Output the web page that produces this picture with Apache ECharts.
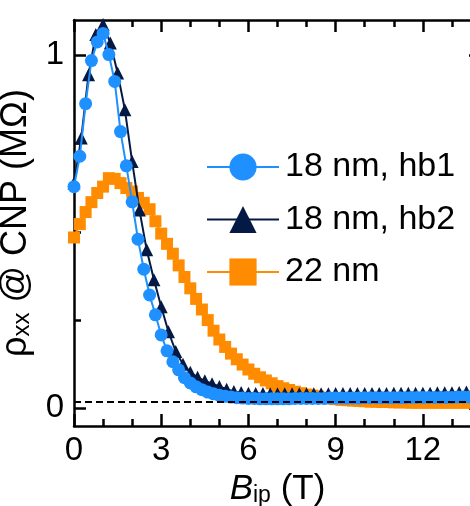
<!DOCTYPE html>
<html>
<head>
<meta charset="utf-8">
<script src="https://cdn.jsdelivr.net/npm/echarts@6/dist/echarts.min.js"></script>
<style>
html,body{margin:0;padding:0;background:#fff;}
#c{width:470px;height:506px;}
</style>
</head>
<body>
<div id="c"></div>
<script>
// ---- data ----
const hb1X = [0.0,0.2,0.4,0.6,0.8,1.0,1.2,1.4,1.6,1.8,2.0,2.2,2.4,2.6,2.8,3.0,3.2,3.4,3.6,3.8,4.0,4.2,4.4,4.6,4.8,5.0,5.2,5.4,5.6,5.8,6.0,6.2,6.4,6.6,6.8,7.0,7.2,7.4,7.6,7.8,8.0,8.2,8.4,8.6,8.8,9.0,9.2,9.4,9.6,9.8,10.0,10.2,10.4,10.6,10.8,11.0,11.2,11.4,11.6,11.8,12.0,12.2,12.4,12.6,12.8,13.0,13.2,13.4,13.6];
const hb1Y = [0.628,0.714,0.863,0.985,1.038,1.062,1.002,0.926,0.784,0.687,0.585,0.479,0.394,0.321,0.265,0.208,0.163,0.132,0.109,0.087,0.072,0.061,0.053,0.046,0.041,0.037,0.034,0.032,0.030,0.029,0.028,0.028,0.027,0.027,0.027,0.027,0.027,0.027,0.028,0.028,0.028,0.028,0.028,0.028,0.029,0.029,0.029,0.029,0.029,0.029,0.030,0.030,0.030,0.030,0.030,0.030,0.030,0.030,0.031,0.031,0.031,0.031,0.031,0.031,0.031,0.031,0.032,0.032,0.032];

const hb2X = [0,0.25,0.5,0.75,1.0,1.25,1.5,1.75,2.0,2.25,2.5,2.75,3.0,3.25,3.5,3.75,4.0,4.25,4.5,4.75,5.0,5.25,5.5,5.75,6.0,6.25,6.5,6.75,7.0,7.25,7.5,7.75,8.0,8.25,8.5,8.75,9.0,9.25,9.5,9.75,10.0,10.25,10.5,10.75,11.0,11.25,11.5,11.75,12.0,12.25,12.5,12.75,13.0,13.25,13.5];
const hb2Y = [0.638,0.766,0.945,1.059,1.087,1.035,0.950,0.846,0.699,0.562,0.449,0.364,0.288,0.217,0.161,0.125,0.102,0.088,0.078,0.070,0.062,0.054,0.048,0.045,0.043,0.042,0.042,0.041,0.041,0.041,0.041,0.041,0.041,0.041,0.041,0.041,0.042,0.042,0.042,0.042,0.042,0.042,0.042,0.042,0.043,0.043,0.043,0.043,0.043,0.043,0.044,0.044,0.044,0.045,0.046];

const nm22X = [0.0,0.2,0.4,0.6,0.8,1.0,1.2,1.4,1.6,1.8,2.0,2.2,2.4,2.6,2.8,3.0,3.2,3.4,3.6,3.8,4.0,4.2,4.4,4.6,4.8,5.0,5.2,5.4,5.6,5.8,6.0,6.2,6.4,6.6,6.8,7.0,7.2,7.4,7.6,7.8,8.0,8.2,8.4,8.6,8.8,9.0,9.2,9.4,9.6,9.8,10.0,10.2,10.4,10.6,10.8,11.0,11.2,11.4,11.6,11.8,12.0,12.2,12.4,12.6,12.8,13.0,13.2,13.4,13.6];
const nm22Y = [0.484,0.522,0.556,0.584,0.610,0.628,0.652,0.650,0.638,0.624,0.614,0.596,0.582,0.564,0.530,0.495,0.466,0.438,0.405,0.372,0.340,0.310,0.280,0.250,0.220,0.195,0.174,0.155,0.139,0.124,0.110,0.098,0.088,0.079,0.071,0.063,0.057,0.052,0.047,0.043,0.039,0.036,0.033,0.030,0.028,0.026,0.024,0.023,0.022,0.021,0.020,0.019,0.019,0.018,0.018,0.017,0.017,0.017,0.016,0.016,0.016,0.016,0.016,0.016,0.016,0.016,0.016,0.016,0.016];

const seriesNames = ['18 nm, hb1', '18 nm, hb2', '22 nm'];
const xMajorTicks = [0, 3, 6, 9, 12];
const xMinorTicks = [1, 2, 4, 5, 7, 8, 10, 11, 13];
const yMajorTicks = [0, 1];
const yMinorTicks = [0.25, 0.5, 0.75];
const dashedLevel = 0.024;

// ---- chart ----
const FONT = 'Liberation Sans';
const FS = 33;
const XMIN = 0, XMAX = 14, YMIN = -0.05, YMAX = 1.1;
const LW = 2.5;

function pairs(xs, ys) { return xs.map((x, i) => [x, ys[i]]); }

function xAx(pos, ticks, len, showLine, labels) {
  return {
    type: 'value', position: pos, min: XMIN, max: XMAX,
    axisLine: { show: showLine, onZero: false, lineStyle: { color: '#000', width: LW } },
    axisTick: { show: true, inside: true, length: len, customValues: ticks, lineStyle: { color: '#000', width: LW } },
    axisLabel: labels ? { show: true, customValues: labels, margin: 8, color: '#000', fontSize: FS, fontFamily: FONT } : { show: false },
    splitLine: { show: false }
  };
}
function yAx(pos, ticks, len, showLine, labels) {
  return {
    type: 'value', position: pos, min: YMIN, max: YMAX,
    axisLine: { show: showLine, onZero: false, lineStyle: { color: '#000', width: LW } },
    axisTick: { show: true, inside: true, length: len, customValues: ticks, lineStyle: { color: '#000', width: LW } },
    axisLabel: labels ? { show: true, customValues: labels, margin: 10, color: '#000', fontSize: FS, fontFamily: FONT } : { show: false },
    splitLine: { show: false }
  };
}

const xAxes = [
  xAx('bottom', xMajorTicks, 12, true, xMajorTicks),
  xAx('bottom', xMinorTicks, 7, false, null),
  xAx('top', xMajorTicks, 12, true, null),
  xAx('top', xMinorTicks, 7, false, null)
];
Object.assign(xAxes[0], {
  name: '{b|B}{s|ip}{n| (T)}', nameLocation: 'middle', nameGap: 43,
  nameTextStyle: {
    rich: {
      b: { fontFamily: FONT, fontSize: 35, fontStyle: 'italic', color: '#000' },
      s: { fontFamily: FONT, fontSize: 23, color: '#000', padding: [13, 0, 0, 0] },
      n: { fontFamily: FONT, fontSize: 35, color: '#000' }
    }
  }
});
const yAxes = [
  yAx('left', yMajorTicks, 12, true, yMajorTicks),
  yAx('left', yMinorTicks, 7, false, null),
  yAx('right', yMajorTicks, 12, true, null),
  yAx('right', yMinorTicks, 7, false, null)
];
Object.assign(yAxes[0], {
  name: '{r|ρ}{s|xx}{n| @ CNP (MΩ)}', nameLocation: 'middle', nameGap: 18,
  nameTextStyle: {
    rich: {
      r: { fontFamily: FONT, fontSize: 36, color: '#000' },
      s: { fontFamily: FONT, fontSize: 24, color: '#000', padding: [14, 0, 0, 0] },
      n: { fontFamily: FONT, fontSize: 36, color: '#000' }
    }
  }
});

const BLUE = '#1E90FF', NAVY = '#041A45', ORANGE = '#FF8C00';

const chart = echarts.init(document.getElementById('c'), null, { renderer: 'canvas' });
chart.setOption({
  animation: false,
  backgroundColor: '#fff',
  grid: { left: 74, right: -11, top: 20, bottom: 80, containLabel: false, outerBoundsMode: 'none' },
  xAxis: xAxes,
  yAxis: yAxes,
  legend: {
    orient: 'vertical', left: 201, top: 145,
    itemWidth: 72, itemHeight: 34, itemGap: 18.5,
    selectedMode: false,
    data: seriesNames,
    textStyle: { fontFamily: FONT, fontSize: 34, color: '#000', padding: [0, 0, 0, 1] }
  },
  series: [
    {
      name: seriesNames[2], type: 'line', data: pairs(nm22X, nm22Y),
      symbol: 'rect', symbolSize: 12, showAllSymbol: true,
      lineStyle: { color: ORANGE, width: 2 }, itemStyle: { color: ORANGE },
      z: 2
    },
    {
      name: seriesNames[1], type: 'line', data: pairs(hb2X, hb2Y),
      symbol: 'triangle', symbolSize: 13, showAllSymbol: true,
      lineStyle: { color: NAVY, width: 2 }, itemStyle: { color: NAVY },
      z: 3
    },
    {
      name: seriesNames[0], type: 'line', data: pairs(hb1X, hb1Y),
      symbol: 'circle', symbolSize: 13, showAllSymbol: true,
      lineStyle: { color: BLUE, width: 2 }, itemStyle: { color: BLUE },
      z: 4,
      markLine: {
        silent: true, symbol: 'none', z: 10,
        label: { show: false },
        lineStyle: { color: '#000', type: [7, 4], width: 2 },
        data: [{ yAxis: dashedLevel }]
      }
    }
  ]
});
</script>
</body>
</html>
